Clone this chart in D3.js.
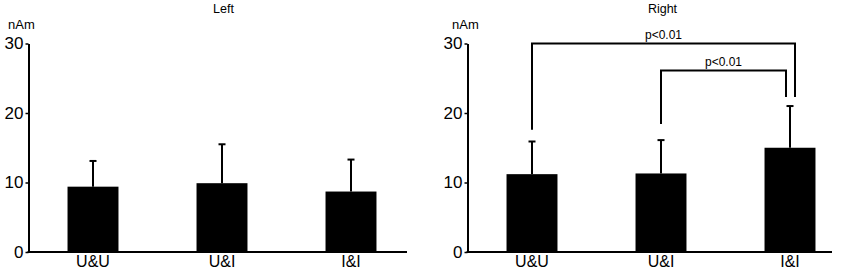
<!DOCTYPE html>
<html>
<head>
<meta charset="utf-8">
<script src="https://cdn.jsdelivr.net/npm/d3@7"></script>
<style>
  body { margin: 0; background: #fff; }
  svg { display: block; font-family: "Liberation Sans", Arial, sans-serif; }
</style>
</head>
<body>
<div id="chart"></div>
<script>
// Data
const categories = ["U&U", "U&I", "I&I"];
const panelTitles = ["Left", "Right"];
const leftMeans = [9.4, 9.9, 8.7];
const leftErrors = [13.1, 15.5, 13.3];   // top of error bar
const rightMeans = [11.2, 11.3, 15.0];
const rightErrors = [15.9, 16.1, 21.0];
const yTicks = [0, 10, 20, 30];
// significance brackets: from, to, level, left leg bottom, right leg bottom, label
const brackets = [
  { from: "U&U", to: "I&I", level: 30, fromBottom: 17.6, toBottom: 22.3, label: "p<0.01", toShift: 5 },
  { from: "U&I", to: "I&I", level: 26.1, fromBottom: 18.4, toBottom: 22.3, label: "p<0.01", toShift: -4 }
];

const width = 850, height = 269;
const panels = [
  { title: panelTitles[0], means: leftMeans, errs: leftErrors, x0: 28.5, axisEnd: 407, unitX: 8, brackets: [] },
  { title: panelTitles[1], means: rightMeans, errs: rightErrors, x0: 467.5, axisEnd: 832, unitX: 452, brackets: brackets }
];

const svg = d3.select("#chart")
  .append("svg")
  .attr("width", width)
  .attr("height", height)
  .attr("viewBox", [0, 0, width, height]);

const y = d3.scaleLinear()
  .domain([0, 30])
  .range([252, 43.5]);

panels.forEach(p => {
  const g = svg.append("g");

  const x = d3.scaleBand()
    .domain(categories)
    .range([p.x0, p.x0 + 387])
    .paddingInner(0.605)
    .paddingOuter(0.3025);

  // bars
  g.selectAll(".bar")
    .data(categories)
    .join("rect")
    .attr("x", d => x(d))
    .attr("width", x.bandwidth())
    .attr("y", (d, i) => y(p.means[i]))
    .attr("height", (d, i) => y(0) - y(p.means[i]))
    .attr("fill", "#000");

  // error bars (upper only)
  const cx = d => x(d) + x.bandwidth() / 2;
  g.selectAll(".err")
    .data(categories)
    .join("line")
    .attr("x1", cx).attr("x2", cx)
    .attr("y1", (d, i) => y(p.means[i]))
    .attr("y2", (d, i) => y(p.errs[i]))
    .attr("stroke", "#000")
    .attr("stroke-width", 2);
  g.selectAll(".cap")
    .data(categories)
    .join("line")
    .attr("x1", d => cx(d) - 3.5).attr("x2", d => cx(d) + 3.5)
    .attr("y1", (d, i) => y(p.errs[i]))
    .attr("y2", (d, i) => y(p.errs[i]))
    .attr("stroke", "#000")
    .attr("stroke-width", 2);

  // y axis
  const yAxis = g.append("g")
    .attr("transform", `translate(${p.x0},0)`)
    .call(d3.axisLeft(y).tickValues(yTicks).tickSize(3).tickSizeOuter(0).tickPadding(2));
  yAxis.select(".domain").attr("stroke-width", 2);
  yAxis.selectAll(".tick line").attr("stroke-width", 1.5);
  yAxis.selectAll(".tick text")
    .attr("font-size", 17)
    .attr("font-family", "Liberation Sans, Arial, sans-serif")
    .attr("fill", "#000");

  // x axis line
  g.append("line")
    .attr("x1", p.x0 - 1).attr("x2", p.axisEnd)
    .attr("y1", y(0)).attr("y2", y(0))
    .attr("stroke", "#000")
    .attr("stroke-width", 2);

  // category labels
  g.selectAll(".cat")
    .data(categories)
    .join("text")
    .attr("x", cx)
    .attr("y", 267)
    .attr("text-anchor", "middle")
    .attr("font-size", 16)
    .text(d => d);

  // panel title
  g.append("text")
    .attr("x", p.x0 + 195)
    .attr("y", 13)
    .attr("text-anchor", "middle")
    .attr("font-size", 12.5)
    .text(p.title);

  // unit label
  g.append("text")
    .attr("x", p.unitX)
    .attr("y", 29)
    .attr("font-size", 13)
    .text("nAm");

  // significance brackets
  p.brackets.forEach(b => {
    const xa = cx(b.from), xb = cx(b.to) + b.toShift;
    g.append("path")
      .attr("d", `M${xa},${y(b.fromBottom)}V${y(b.level)}H${xb}V${y(b.toBottom)}`)
      .attr("fill", "none")
      .attr("stroke", "#000")
      .attr("stroke-width", 2);
    g.append("text")
      .attr("x", (xa + xb) / 2)
      .attr("y", y(b.level) - 5)
      .attr("text-anchor", "middle")
      .attr("font-size", 12)
      .text(b.label);
  });
});
</script>
</body>
</html>
